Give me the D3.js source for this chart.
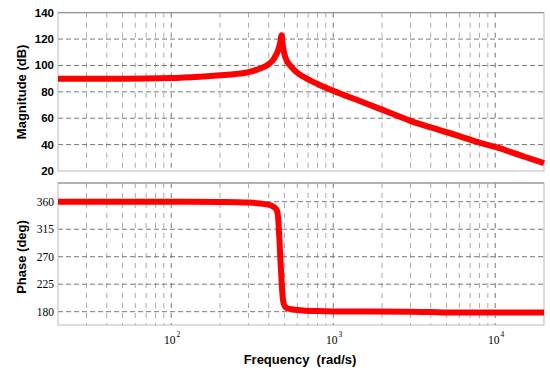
<!DOCTYPE html>
<html>
<head>
<meta charset="utf-8">
<script src="https://cdn.jsdelivr.net/npm/d3@7"></script>
<style>
  body { margin: 0; background: #fff; }
  svg { display: block; }
</style>
</head>
<body>
<div id="vis"></div>
<script>
const WIDTH = 550;
const HEIGHT = 375;

// frequency (rad/s) and magnitude (dB)
const magFreq = [20, 50, 100, 150, 200, 250, 300, 350, 400, 430, 455, 470, 480, 490, 505, 550, 600, 700, 800, 1000, 1500, 2000, 3000, 4000, 6000, 8000, 10000, 15000, 20000];
const magDb   = [90, 90, 90.5, 91.5, 92.5, 93.5, 95, 97.5, 101, 105, 111, 117, 123, 114, 106.5, 99, 94.5, 89.5, 86, 80.8, 72.5, 66.5, 58, 53, 46.5, 41.5, 38.2, 31, 26];

// frequency (rad/s) and phase (deg)
const phFreq   = [20, 100, 200, 300, 380, 420, 440, 450, 458, 465, 472, 480, 487, 495, 510, 550, 650, 800, 1000, 3000, 4000, 5000, 20000];
const phaseDeg = [360, 360, 359.5, 358.5, 356, 353, 349, 345, 330, 300, 265, 230, 205, 193, 187, 184, 182, 181, 180.5, 180, 179.5, 178.5, 178.5];

const magTicks = [20, 40, 60, 80, 100, 120, 140];
const phaseTicks = [180, 225, 270, 315, 360];
const freqTicks = [100, 1000, 10000];

const LEFT = 58, RIGHT = 544;
const MAG = {top: 12.7, bottom: 171};
const PH = {top: 183, bottom: 325};

const svg = d3.select("#vis").append("svg")
  .attr("width", WIDTH).attr("height", HEIGHT);

const X = d3.scaleLog().domain([20, 20000]).range([LEFT, RIGHT]);
const Y_MAG = d3.scaleLinear().domain([20, 140]).range([MAG.bottom, MAG.top]);
const Y_PH = d3.scaleLinear().domain([180, 360]).range([311.7, 201.7]);

function panel(top, bottom, yScale, yTicks, tickFont, tickWeight) {
  const g = svg.append("g");
  // vertical grid (decades + minor)
  g.selectAll(".vg")
    .data(X.ticks().filter(d => d > 20 && d < 20000))
    .enter().append("line")
      .attr("x1", d => X(d)).attr("x2", d => X(d))
      .attr("y1", top).attr("y2", bottom)
      .attr("stroke", d => freqTicks.includes(d) ? "#777" : "#aaa")
      .attr("stroke-width", 1)
      .attr("stroke-dasharray", "5,5");
  // horizontal grid
  g.selectAll(".hg")
    .data(yTicks.filter(d => yScale(d) > top + 1 && yScale(d) < bottom - 1))
    .enter().append("line")
      .attr("x1", LEFT).attr("x2", RIGHT)
      .attr("y1", d => yScale(d)).attr("y2", d => yScale(d))
      .attr("stroke", "#777")
      .attr("stroke-width", 1)
      .attr("stroke-dasharray", "5,3");
  // frame
  g.append("rect")
    .attr("x", LEFT).attr("y", top)
    .attr("width", RIGHT - LEFT).attr("height", bottom - top)
    .attr("fill", "none").attr("stroke", "#bbb").attr("stroke-width", 1);
  g.append("line")
    .attr("x1", LEFT).attr("x2", RIGHT).attr("y1", top).attr("y2", top)
    .attr("stroke", "#888");
  // y tick labels
  g.selectAll(".yl")
    .data(yTicks)
    .enter().append("text")
      .attr("x", LEFT - 4)
      .attr("y", d => yScale(d))
      .attr("dy", "0.35em")
      .attr("text-anchor", "end")
      .attr("font-family", tickFont)
      .attr("font-weight", tickWeight)
      .attr("font-size", "11.5px")
      .attr("fill", "#000")
      .text(d => d);
}

panel(MAG.top, MAG.bottom, Y_MAG, magTicks, "Liberation Sans, Arial, sans-serif", "bold");
panel(PH.top, PH.bottom, Y_PH, phaseTicks, "Liberation Serif, Times New Roman, serif", "normal");

// x tick labels 10^n
const xl = svg.selectAll(".xl")
  .data(freqTicks)
  .enter().append("text")
    .attr("x", d => X(d) + 1)
    .attr("y", 344)
    .attr("text-anchor", "middle")
    .attr("font-family", "Liberation Serif, Times New Roman, serif")
    .attr("font-size", "11.5px");
xl.append("tspan").text("10");
xl.append("tspan")
  .attr("dy", -7).attr("dx", 1)
  .attr("font-size", "7.5px")
  .text(d => Math.round(Math.log10(d)));

// curves
const magLine = d3.line()
  .x((d, i) => X(magFreq[i]))
  .y(d => Y_MAG(d))
  .curve(d3.curveMonotoneX);

const phLine = d3.line()
  .x((d, i) => X(phFreq[i]))
  .y(d => Y_PH(d))
  .curve(d3.curveMonotoneX);

svg.append("path")
  .attr("d", magLine(magDb))
  .attr("fill", "none")
  .attr("stroke", "#ff0000")
  .attr("stroke-width", 6)
  .attr("stroke-linejoin", "round");

svg.append("path")
  .attr("d", phLine(phaseDeg))
  .attr("fill", "none")
  .attr("stroke", "#ff0000")
  .attr("stroke-width", 6)
  .attr("stroke-linejoin", "round");

// axis titles
svg.append("text")
  .attr("transform", "translate(26," + ((MAG.top + MAG.bottom) / 2) + ") rotate(-90)")
  .attr("text-anchor", "middle")
  .attr("font-family", "Liberation Sans, Arial, sans-serif")
  .attr("font-weight", "bold")
  .attr("font-size", "13px")
  .text("Magnitude (dB)");

svg.append("text")
  .attr("transform", "translate(26,257) rotate(-90)")
  .attr("text-anchor", "middle")
  .attr("font-family", "Liberation Sans, Arial, sans-serif")
  .attr("font-weight", "bold")
  .attr("font-size", "13px")
  .text("Phase (deg)");

svg.append("text")
  .attr("x", 300)
  .attr("y", 364)
  .attr("text-anchor", "middle")
  .attr("font-family", "Liberation Sans, Arial, sans-serif")
  .attr("font-weight", "bold")
  .attr("font-size", "13px")
  .style("white-space", "pre")
  .text("Frequency  (rad/s)");
</script>
</body>
</html>
